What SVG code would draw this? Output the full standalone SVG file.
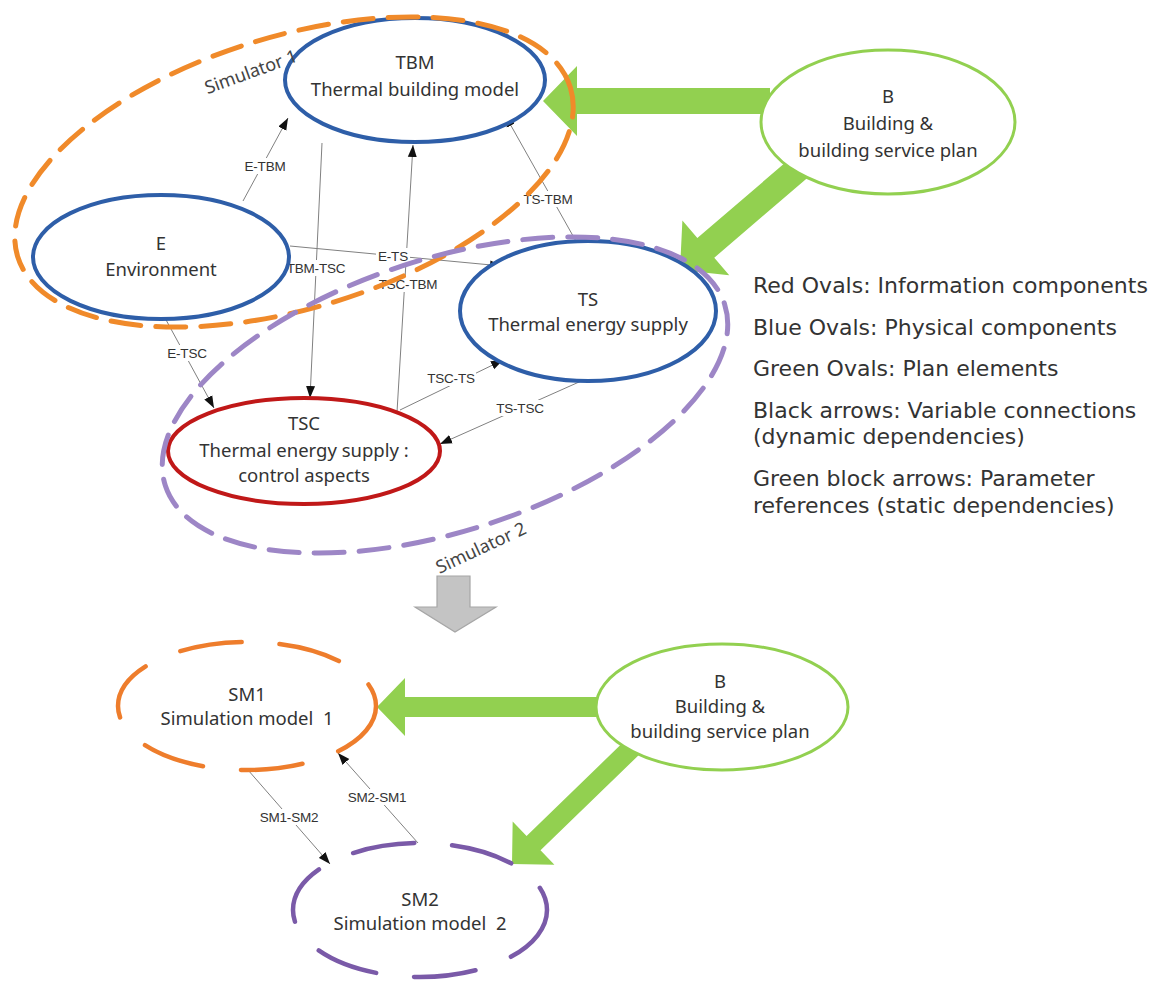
<svg xmlns="http://www.w3.org/2000/svg" width="1152" height="981" viewBox="0 0 1152 981">
  <style>
    .node-txt { font-family: "Noto Sans", "Liberation Sans", sans-serif; font-size: 18.5px; fill: #333; text-anchor: middle; }
    .edge-txt { font-family: "Liberation Sans", "Noto Sans", sans-serif; font-size: 13.5px; fill: #333; text-anchor: middle; dominant-baseline: central; letter-spacing: -0.2px; }
    .legend { font-family: "DejaVu Sans", "Liberation Sans", sans-serif; font-size: 22px; fill: #333; }
    .sim-txt { font-family: "Noto Sans", "Liberation Sans", sans-serif; font-size: 18px; fill: #444; text-anchor: middle; }
    .edge { stroke: #808080; stroke-width: 1; fill: none; marker-end: url(#ah); }
    .blue { fill: #fff; stroke: #2e5ea8; stroke-width: 4; }
    .red { fill: #fff; stroke: #c01818; stroke-width: 4; }
    .green { fill: #fff; stroke: #92d050; stroke-width: 3; }
    .block { fill: #92d050; }
    .sim1 { fill: none; stroke: #f08a2a; stroke-width: 5; stroke-dasharray: 30 15; stroke-linecap: round; }
    .sim2 { fill: none; stroke: #9d86c6; stroke-width: 5; stroke-dasharray: 30 15; stroke-linecap: round; }
    .sm1 { fill: none; stroke: #ee7d2c; stroke-width: 4.5; stroke-dasharray: 62 38; stroke-linecap: round; }
    .sm2 { fill: none; stroke: #7a5aa8; stroke-width: 4.5; stroke-dasharray: 62 38; stroke-linecap: round; }
    .lbl-bg { fill: #fff; }
  </style>
  <defs>
    <marker id="ah" viewBox="0 0 12 10" refX="12" refY="5" markerWidth="12" markerHeight="10" markerUnits="userSpaceOnUse" orient="auto">
      <path d="M0,0.5 L12,5 L0,9.5 z" fill="#111"/>
    </marker>
  </defs>
  <rect width="1152" height="981" fill="#fff"/>

  <!-- variable connections -->
  <g id="connectors">
    <line class="edge" x1="243" y1="201" x2="288" y2="118"/>
    <line class="edge" x1="322" y1="143" x2="310" y2="398"/>
    <line class="edge" x1="397" y1="412" x2="413" y2="145"/>
    <line class="edge" x1="290" y1="246" x2="502" y2="266"/>
    <line class="edge" x1="577" y1="243" x2="505" y2="115"/>
    <line class="edge" x1="165" y1="318" x2="214" y2="408"/>
    <line class="edge" x1="400" y1="410" x2="503" y2="360"/>
    <line class="edge" x1="588" y1="378" x2="440" y2="444"/>
    <line class="edge" x1="248" y1="770" x2="330" y2="864"/>
    <line class="edge" x1="418" y1="843" x2="338" y2="753"/>

    <g id="edge-labels">
      <rect class="lbl-bg" x="242" y="158" width="46" height="16"/>
      <text class="edge-txt" x="265" y="166">E-TBM</text>
      <rect class="lbl-bg" x="286" y="260" width="60" height="16"/>
      <text class="edge-txt" x="316" y="268">TBM-TSC</text>
      <rect class="lbl-bg" x="378" y="276" width="60" height="16"/>
      <text class="edge-txt" x="408" y="284">TSC-TBM</text>
      <rect class="lbl-bg" x="376" y="248" width="34" height="16"/>
      <text class="edge-txt" x="393" y="256">E-TS</text>
      <rect class="lbl-bg" x="522" y="191" width="52" height="16"/>
      <text class="edge-txt" x="548" y="199">TS-TBM</text>
      <rect class="lbl-bg" x="165" y="345" width="44" height="16"/>
      <text class="edge-txt" x="187" y="353">E-TSC</text>
      <rect class="lbl-bg" x="426" y="370" width="50" height="16"/>
      <text class="edge-txt" x="451" y="378">TSC-TS</text>
      <rect class="lbl-bg" x="495" y="400" width="50" height="16"/>
      <text class="edge-txt" x="520" y="408">TS-TSC</text>
      <rect class="lbl-bg" x="259" y="809" width="60" height="16"/>
      <text class="edge-txt" x="289" y="817">SM1-SM2</text>
      <rect class="lbl-bg" x="347" y="789" width="60" height="16"/>
      <text class="edge-txt" x="377" y="797">SM2-SM1</text>
    </g>
  </g>

  <!-- parameter references (block arrows) -->
  <g id="block-arrows">
    <polygon class="block" points="770,88 577,88 577,66 543,101 577,136 577,114 770,114"/>
    <g transform="translate(680,270) rotate(-40.6)">
      <polygon class="block" points="190,-13 34,-13 34,-36 0,0 34,36 34,13 190,13"/>
    </g>
    <polygon class="block" points="600,697 405,697 405,678 377,707 405,736 405,717 600,717"/>
    <g transform="translate(512,864) rotate(-44.1)">
      <polygon class="block" points="185,-10 30,-10 30,-30 0,0 30,30 30,10 185,10"/>
    </g>
  </g>

  <!-- model translation arrow -->
  <polygon id="transition-arrow" points="437,576 470,576 470,607 496,607 455,632 415,607 437,607" fill="#c4c4c4" stroke="#a6a6a6" stroke-width="1.2"/>

  <g id="node-TBM">
    <ellipse class="blue" cx="415" cy="80" rx="130" ry="62"/>
    <text class="node-txt" x="415" y="69">TBM</text>
    <text class="node-txt" x="415" y="96">Thermal building model</text>
  </g>
  <g id="node-E">
    <ellipse class="blue" cx="161" cy="257" rx="128" ry="62"/>
    <text class="node-txt" x="161" y="250">E</text>
    <text class="node-txt" x="161" y="276">Environment</text>
  </g>
  <g id="node-TS">
    <ellipse class="blue" cx="588" cy="311" rx="128" ry="70"/>
    <text class="node-txt" x="588" y="306">TS</text>
    <text class="node-txt" x="588" y="331">Thermal energy supply</text>
  </g>
  <g id="node-TSC">
    <ellipse class="red" cx="304" cy="451" rx="136" ry="53"/>
    <text class="node-txt" x="304" y="430">TSC</text>
    <text class="node-txt" x="304" y="457">Thermal energy supply :</text>
    <text class="node-txt" x="304" y="482">control aspects</text>
  </g>
  <g id="node-B">
    <ellipse class="green" cx="888" cy="122" rx="127" ry="72"/>
    <text class="node-txt" x="888" y="103">B</text>
    <text class="node-txt" x="888" y="130">Building &amp;</text>
    <text class="node-txt" x="888" y="157">building service plan</text>
  </g>

  <g id="simulator-1">
    <ellipse class="sim1" cx="294" cy="172" rx="289" ry="136" transform="rotate(-17 294 172)"/>
    <text class="sim-txt" x="251" y="78" transform="rotate(-20 251 72)">Simulator 1</text>
  </g>
  <g id="simulator-2">
    <ellipse class="sim2" cx="445" cy="395" rx="294" ry="136" transform="rotate(-18 445 395)"/>
    <text class="sim-txt" x="481" y="554" transform="rotate(-25 481 548)">Simulator 2</text>
  </g>

  <g id="node-SM1">
    <ellipse class="sm1" cx="247" cy="706" rx="129" ry="64"/>
    <text class="node-txt" x="247" y="701">SM1</text>
    <text class="node-txt" x="247" y="725" xml:space="preserve">Simulation model  1</text>
  </g>
  <g id="node-SM2">
    <ellipse class="sm2" cx="420" cy="910" rx="127" ry="67"/>
    <text class="node-txt" x="420" y="906">SM2</text>
    <text class="node-txt" x="420" y="930" xml:space="preserve">Simulation model  2</text>
  </g>
  <g id="node-B2">
    <ellipse class="green" cx="722" cy="707" rx="126" ry="63"/>
    <text class="node-txt" x="720" y="688">B</text>
    <text class="node-txt" x="720" y="713">Building &amp;</text>
    <text class="node-txt" x="720" y="738">building service plan</text>
  </g>

  <g id="legend">
    <text class="legend" x="753" y="293">Red Ovals: Information components</text>
    <text class="legend" x="753" y="335">Blue Ovals: Physical components</text>
    <text class="legend" x="753" y="376">Green Ovals: Plan elements</text>
    <text class="legend" x="753" y="418">Black arrows: Variable connections</text>
    <text class="legend" x="753" y="444">(dynamic dependencies)</text>
    <text class="legend" x="753" y="486">Green block arrows: Parameter</text>
    <text class="legend" x="753" y="513">references (static dependencies)</text>
  </g>
</svg>
